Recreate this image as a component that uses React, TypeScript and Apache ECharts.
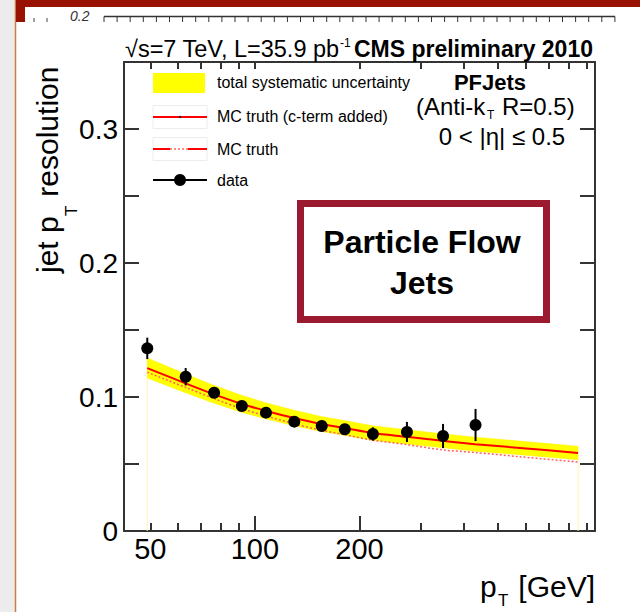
import React, { useEffect, useRef } from 'react';
import * as echarts from 'echarts';

const FONT = '"Liberation Sans", Arial, Helvetica, sans-serif';

// pT range of the axis (GeV)
const X_MIN = 42;
const X_MAX = 952;

// tick positions (GeV)
const X_TICKS_MINOR = [50, 60, 70, 80, 90, 300, 400, 500, 600, 700, 800, 900];
const X_TICKS_MAJOR = [100, 200];
const X_LABELS = [50, 100, 200];
const Y_LABELS = [0, 0.1, 0.2, 0.3];

// curves (MC) sampled in pT
const PT_CURVE = [49, 63.4, 76.3, 91.9, 107.8, 129.8, 155, 181, 218, 273, 347, 430, 579, 851];
const MC_CTERM = [0.1216, 0.110, 0.102, 0.0948, 0.0896, 0.0843, 0.0799, 0.0769, 0.0731, 0.0703, 0.0673, 0.0648, 0.062, 0.0582];
const BAND_UP = [0.1291, 0.117, 0.1086, 0.1011, 0.0956, 0.0901, 0.0855, 0.0824, 0.0785, 0.0756, 0.0725, 0.07, 0.0671, 0.0632];
const BAND_LO = [0.1141, 0.103, 0.0954, 0.0885, 0.0836, 0.0785, 0.0743, 0.0714, 0.0677, 0.065, 0.0621, 0.0596, 0.0569, 0.0532];
const MC_TRUTH = [0.1185, 0.107, 0.0988, 0.0912, 0.0858, 0.08, 0.0752, 0.0719, 0.0678, 0.0645, 0.0605, 0.0586, 0.0554, 0.0515];

// data points
const PT_DATA = [49, 63.2, 76.3, 91.7, 107.6, 129.8, 155.7, 181.4, 218.5, 273.8, 347.8, 431.4];
const RES_DATA = [0.1363, 0.1151, 0.1032, 0.0933, 0.0883, 0.0816, 0.0784, 0.0759, 0.0724, 0.0739, 0.0709, 0.0791];
const ERR_DATA = [0.008, 0.0065, 0.003, 0.003, 0.003, 0.003, 0.003, 0.003, 0.005, 0.0075, 0.009, 0.012];

const lg = (v: number) => Math.log10(v);

function txt(x: number, baseline: number, text: string, size: number, opts: any = {}) {
  const align = opts.align || 'left';
  return {
    type: 'text',
    x,
    y: baseline - 0.35 * size,
    z: opts.z ?? 20,
    style: {
      text,
      fontSize: size,
      fontFamily: FONT,
      fontWeight: opts.weight || 'normal',
      fontStyle: opts.style || 'normal',
      fill: opts.color || '#000',
      align,
      textAlign: align,
      verticalAlign: 'middle',
      textVerticalAlign: 'middle',
    },
  };
}

function buildGraphics() {
  const g: any[] = [];
  // page decorations
  g.push({ type: 'rect', shape: { x: 0, y: 0, width: 15, height: 612 }, style: { fill: '#ececec' }, z: 1 });
  g.push({ type: 'line', shape: { x1: 15.5, y1: 0, x2: 15.5, y2: 612 }, style: { stroke: '#cf7a4a', lineWidth: 1.5 }, z: 1 });
  g.push({ type: 'rect', shape: { x: 16, y: 0, width: 624, height: 7 }, style: { fill: '#991100' }, z: 1 });
  g.push({ type: 'rect', shape: { x: 16, y: 0, width: 9, height: 22 }, style: { fill: '#991100' }, z: 1 });
  g.push(txt(70, 21, '0.2', 14, { style: 'italic', color: '#333' }));
  g.push({ type: 'line', shape: { x1: 34, y1: 18, x2: 34, y2: 22 }, style: { stroke: '#444', lineWidth: 1 }, z: 1 });
  g.push({ type: 'line', shape: { x1: 47, y1: 18, x2: 47, y2: 22 }, style: { stroke: '#444', lineWidth: 1 }, z: 1 });
  g.push({ type: 'line', shape: { x1: 104, y1: 16.5, x2: 615, y2: 16.5 }, style: { stroke: '#333', lineWidth: 1.5 }, z: 1 });
  for (let x = 104; x <= 615; x += 13.1) {
    g.push({ type: 'line', shape: { x1: x, y1: 16.5, x2: x, y2: 22 }, style: { stroke: '#333', lineWidth: 1 }, z: 1 });
  }

  // header
  g.push(txt(125, 57, '\u221As=7 TeV, L=35.9 pb', 23.5));
  g.push(txt(340, 47, '-1', 12));
  g.push(txt(593, 57, 'CMS preliminary 2010', 23, { weight: 'bold', align: 'right' }));

  // legend
  g.push({ type: 'rect', shape: { x: 153, y: 73, width: 52, height: 20 }, style: { fill: '#ffff00' }, z: 20 });
  g.push({ type: 'rect', shape: { x: 153, y: 105.5, width: 54, height: 23 }, style: { fill: 'none', stroke: '#ececec', lineWidth: 1 }, z: 20 });
  g.push({ type: 'line', shape: { x1: 153, y1: 117, x2: 207, y2: 117 }, style: { stroke: '#ff0000', lineWidth: 2 }, z: 21 });
  g.push({ type: 'circle', shape: { cx: 180, cy: 117, r: 1 }, style: { fill: '#000' }, z: 22 });
  g.push({ type: 'rect', shape: { x: 153, y: 137.5, width: 54, height: 23 }, style: { fill: 'none', stroke: '#ececec', lineWidth: 1 }, z: 20 });
  g.push({ type: 'line', shape: { x1: 153, y1: 149, x2: 170, y2: 149 }, style: { stroke: '#ff0000', lineWidth: 2 }, z: 21 });
  g.push({ type: 'line', shape: { x1: 170, y1: 149, x2: 188, y2: 149 }, style: { stroke: '#ff6060', lineWidth: 1.5, lineDash: [2, 2] }, z: 21 });
  g.push({ type: 'line', shape: { x1: 188, y1: 149, x2: 207, y2: 149 }, style: { stroke: '#ff0000', lineWidth: 2 }, z: 21 });
  g.push({ type: 'line', shape: { x1: 153, y1: 180, x2: 207, y2: 180 }, style: { stroke: '#000', lineWidth: 2 }, z: 21 });
  g.push({ type: 'circle', shape: { cx: 180, cy: 180, r: 6 }, style: { fill: '#000' }, z: 22 });
  g.push(txt(217, 88, 'total systematic uncertainty', 16));
  g.push(txt(217, 122, 'MC truth (c-term added)', 16));
  g.push(txt(217, 155, 'MC truth', 16));
  g.push(txt(217, 186, 'data', 16));

  // jet description
  g.push(txt(490, 90, 'PFJets', 22, { weight: 'bold', align: 'center' }));
  g.push(txt(416, 115, '(Anti-k', 24));
  g.push(txt(487, 119, 'T', 12));
  g.push(txt(502, 115, 'R=0.5)', 24));
  g.push(txt(502, 145, '0 < |\u03B7| \u2264 0.5', 24, { align: 'center' }));

  // Particle Flow box
  g.push({ type: 'rect', shape: { x: 300.5, y: 203.5, width: 246, height: 116 }, style: { fill: '#fff', stroke: '#9c1a30', lineWidth: 7 }, z: 30 });
  g.push(txt(422, 253, 'Particle Flow', 32, { weight: 'bold', align: 'center', z: 31 }));
  g.push(txt(422, 294, 'Jets', 32, { weight: 'bold', align: 'center', z: 31 }));

  // axis titles
  g.push({
    type: 'group', x: 58, y: 273, rotation: Math.PI / 2, z: 20,
    children: [
      txt(0, 0, 'jet p', 30),
      txt(57, 19, 'T', 17),
      txt(68, 0, ' resolution', 30),
    ],
  });
  g.push(txt(480, 597, 'p', 30));
  g.push(txt(498, 606, 'T', 17));
  g.push(txt(595, 597, '[GeV]', 30, { align: 'right' }));
  return g;
}

function buildOption() {
  const xMin = lg(X_MIN);
  const xMax = lg(X_MAX);
  const lineStyleAxis = { color: '#333', width: 2 };
  const baseX = (position: string) => ({
    type: 'value', position, min: xMin, max: xMax,
    axisLine: { show: false, onZero: false, lineStyle: lineStyleAxis },
    splitLine: { show: false },
    axisLabel: { show: false },
  });
  const allTicks = [...X_TICKS_MINOR, ...X_TICKS_MAJOR].map(lg);
  const xAxis: any[] = [
    {
      ...baseX('bottom'),
      axisLine: { show: true, onZero: false, lineStyle: lineStyleAxis },
      axisTick: { show: true, inside: true, length: 8, customValues: X_TICKS_MINOR.map(lg), lineStyle: lineStyleAxis },
      axisLabel: {
        show: true, customValues: X_LABELS.map(lg), margin: 3,
        formatter: (v: number) => String(Math.round(Math.pow(10, v))),
        fontSize: 29, fontFamily: FONT, color: '#000',
      },
    },
    {
      ...baseX('bottom'),
      axisTick: { show: true, inside: true, length: 15, customValues: X_TICKS_MAJOR.map(lg), lineStyle: lineStyleAxis },
    },
    {
      ...baseX('top'),
      axisLine: { show: true, onZero: false, lineStyle: lineStyleAxis },
      axisTick: { show: true, inside: true, length: 7, customValues: allTicks, lineStyle: lineStyleAxis },
    },
  ];
  const baseY = (position: string, labels: boolean) => ({
    type: 'value', position, min: 0, max: 0.35, interval: 0.05,
    axisLine: { show: true, onZero: false, lineStyle: lineStyleAxis },
    axisTick: { show: true, inside: true, length: 15, lineStyle: lineStyleAxis },
    splitLine: { show: false },
    axisLabel: labels
      ? {
          show: true, customValues: Y_LABELS, margin: 6,
          formatter: (v: number) => (v === 0 ? '0' : v.toFixed(1)),
          fontSize: 28, fontFamily: FONT, color: '#000',
        }
      : { show: false },
  });

  const curveX = PT_CURVE.map(lg);
  const series: any[] = [
    {
      type: 'custom', name: 'total systematic uncertainty', z: 2,
      data: curveX.map((x, i) => [x, BAND_LO[i], BAND_UP[i]]),
      encode: { x: 0, y: [1, 2] },
      renderItem: (params: any, api: any) => {
        if (params.dataIndex !== 0) return null;
        const pts: number[][] = [];
        for (let i = 0; i < curveX.length; i++) pts.push(api.coord([curveX[i], BAND_UP[i]]));
        for (let i = curveX.length - 1; i >= 0; i--) pts.push(api.coord([curveX[i], BAND_LO[i]]));
        return { type: 'polygon', shape: { points: pts }, style: { fill: '#ffff00', stroke: '#ffee00', lineWidth: 0.5 } };
      },
    },
    {
      type: 'custom', name: 'band-edges', z: 2,
      data: [[curveX[0], BAND_LO[0]], [curveX[curveX.length - 1], BAND_LO[BAND_LO.length - 1]]],
      encode: { x: 0, y: 1 },
      renderItem: (_p: any, api: any) => {
        const a = api.coord([api.value(0), 0]);
        const b = api.coord([api.value(0), api.value(1)]);
        return { type: 'line', shape: { x1: a[0], y1: a[1], x2: b[0], y2: b[1] }, style: { stroke: '#fff6b0', lineWidth: 1 } };
      },
    },
    {
      type: 'line', name: 'MC truth', smooth: 0.3, symbol: 'none',
      data: curveX.map((x, i) => [x, MC_TRUTH[i]]),
      lineStyle: { color: '#ff6060', width: 1.5, type: [2, 2] }, z: 3,
    },
    {
      type: 'line', name: 'MC truth (c-term added)', smooth: 0.3, symbol: 'none',
      data: curveX.map((x, i) => [x, MC_CTERM[i]]),
      lineStyle: { color: '#ff0000', width: 2 }, z: 4,
    },
    {
      type: 'custom', name: 'data-err', z: 5,
      data: PT_DATA.map((p, i) => [lg(p), RES_DATA[i], ERR_DATA[i]]),
      encode: { x: 0, y: 1 },
      renderItem: (_p: any, api: any) => {
        const x = api.value(0), y = api.value(1), e = api.value(2);
        const a = api.coord([x, y - e]);
        const b = api.coord([x, y + e]);
        return { type: 'line', shape: { x1: a[0], y1: a[1], x2: b[0], y2: b[1] }, style: { stroke: '#000', lineWidth: 2 } };
      },
    },
    {
      type: 'scatter', name: 'data', symbol: 'circle', symbolSize: 12,
      data: PT_DATA.map((p, i) => [lg(p), RES_DATA[i]]),
      itemStyle: { color: '#000', opacity: 1 }, z: 6,
    },
  ];

  return {
    animation: false,
    backgroundColor: '#ffffff',
    grid: { left: 124, right: 45, top: 62, bottom: 81, containLabel: false },
    xAxis,
    yAxis: [baseY('left', true), baseY('right', false)],
    series,
    graphic: { elements: buildGraphics() },
  };
}

export default function App() {
  const ref = useRef<HTMLDivElement>(null);
  useEffect(() => {
    if (!ref.current) return;
    const chart = echarts.init(ref.current, null, { renderer: 'svg' });
    chart.setOption(buildOption() as any);
    return () => chart.dispose();
  }, []);
  return (
    <div
      ref={ref}
      style={{ position: 'fixed', left: 0, top: 0, width: 640, height: 612, background: '#fff' }}
    />
  );
}
